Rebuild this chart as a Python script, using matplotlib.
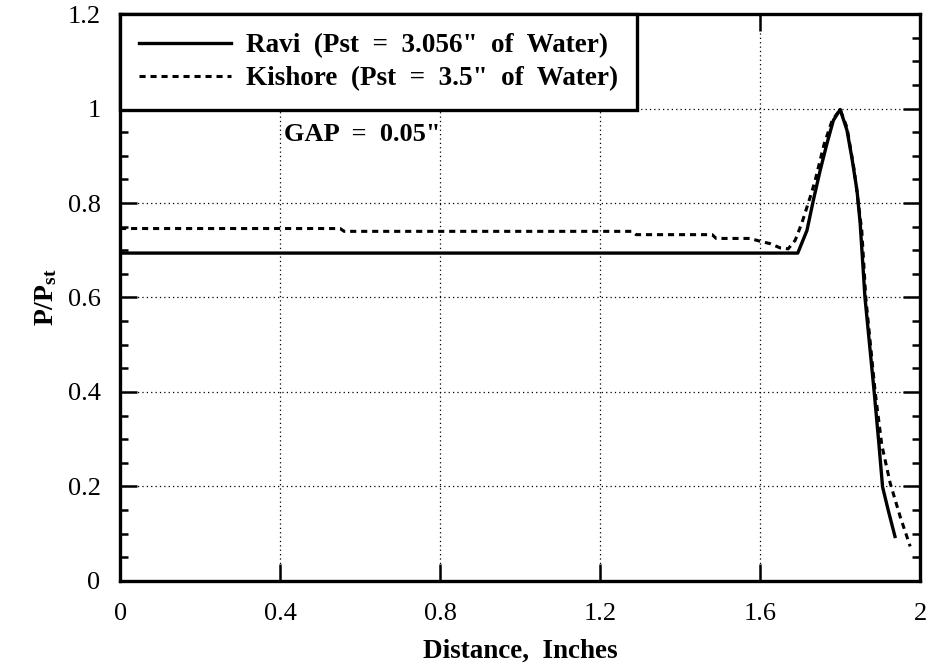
"""
Pressure ratio along the gap: Ravi vs. Kishore data.
"""

import matplotlib
matplotlib.use("Agg")
import matplotlib.pyplot as plt
from matplotlib.ticker import MultipleLocator

# Ravi (Pst = 3.056" of water) - solid
ravi_x = [0.0, 0.60, 1.20, 1.694, 1.717, 1.733, 1.750, 1.767, 1.783, 1.800,
          1.817, 1.829, 1.842, 1.850, 1.862, 1.885, 1.896, 1.906, 1.920, 1.937]
ravi_y = [0.694, 0.694, 0.694, 0.694, 0.742, 0.806, 0.869, 0.926, 0.975, 0.998,
          0.954, 0.897, 0.827, 0.757, 0.600, 0.400, 0.298, 0.199, 0.150, 0.094]

# Kishore (Pst = 3.5" of water) - dashed
kish_x = [0.0, 0.55, 0.56, 1.28, 1.29, 1.48, 1.49, 1.575, 1.60, 1.625, 1.65,
          1.67, 1.6875, 1.704, 1.729, 1.7375, 1.76, 1.78, 1.80, 1.817, 1.835,
          1.854, 1.864, 1.8875, 1.904, 1.925, 1.95, 1.975]
kish_y = [0.746, 0.746, 0.740, 0.740, 0.733, 0.733, 0.725, 0.725, 0.719, 0.714,
          0.705, 0.703, 0.721, 0.757, 0.823, 0.848, 0.925, 0.975, 0.998, 0.960,
          0.870, 0.742, 0.600, 0.400, 0.288, 0.207, 0.136, 0.073]

x_ticks = [0, 0.4, 0.8, 1.2, 1.6, 2]
x_tick_labels = ["0", "0.4", "0.8", "1.2", "1.6", "2"]
y_ticks = [0, 0.2, 0.4, 0.6, 0.8, 1.0, 1.2]
y_tick_labels = ["0", "0.2", "0.4", "0.6", "0.8", "1", "1.2"]

plt.rcParams["font.family"] = ["Liberation Serif", "DejaVu Serif"]
plt.rcParams["mathtext.fontset"] = "custom"
plt.rcParams["mathtext.bf"] = "Liberation Serif:bold"
plt.rcParams["mathtext.rm"] = "Liberation Serif"

fig = plt.figure(figsize=(9.38, 6.70), dpi=100)
ax = fig.add_axes([0.128, 0.133, 0.853, 0.846])

ax.plot(ravi_x, ravi_y, color="black", linewidth=2.4, solid_joinstyle="round",
        label='Ravi  (Pst  =  3.056"  of  Water)')
ax.plot(kish_x, kish_y, color="black", linewidth=2.2, linestyle=(0, (2.0, 1.6)),
        label='Kishore  (Pst  =  3.5"  of  Water)')

ax.set_xlim(0, 2)
ax.set_ylim(0, 1.2)
ax.set_xticks(x_ticks)
ax.set_xticklabels(x_tick_labels)
ax.set_yticks(y_ticks)
ax.set_yticklabels(y_tick_labels)
ax.yaxis.set_minor_locator(MultipleLocator(0.05))

ax.tick_params(which="both", direction="in", top=True, right=True,
               labelsize=19, width=1.8)
ax.tick_params(which="major", length=12)
ax.tick_params(which="minor", length=6)
ax.tick_params(axis="x", pad=16)
ax.tick_params(axis="y", pad=14)

for sp in ax.spines.values():
    sp.set_linewidth(2.4)

ax.grid(True, which="major", color="black", linestyle=(0, (1, 2.5)), linewidth=0.9)

ax.set_xlabel("Distance,  Inches", fontsize=19.5, fontweight="bold", labelpad=10)
ax.set_ylabel(r"$\mathbf{P/P_{st}}$", fontsize=20, labelpad=6)

ax.text(0.41, 0.945, 'GAP  =  0.05"', fontsize=19, fontweight="bold",
        ha="left", va="center")

leg = ax.legend(loc="upper left", borderaxespad=0, handlelength=3.4,
                fancybox=False, framealpha=1, edgecolor="black",
                prop={"weight": "bold", "size": 19.5}, labelspacing=0.3,
                handletextpad=0.55, borderpad=0.7)
leg.get_frame().set_linewidth(2.4)

fig.savefig("out.png", dpi=100)
plt.close(fig)
